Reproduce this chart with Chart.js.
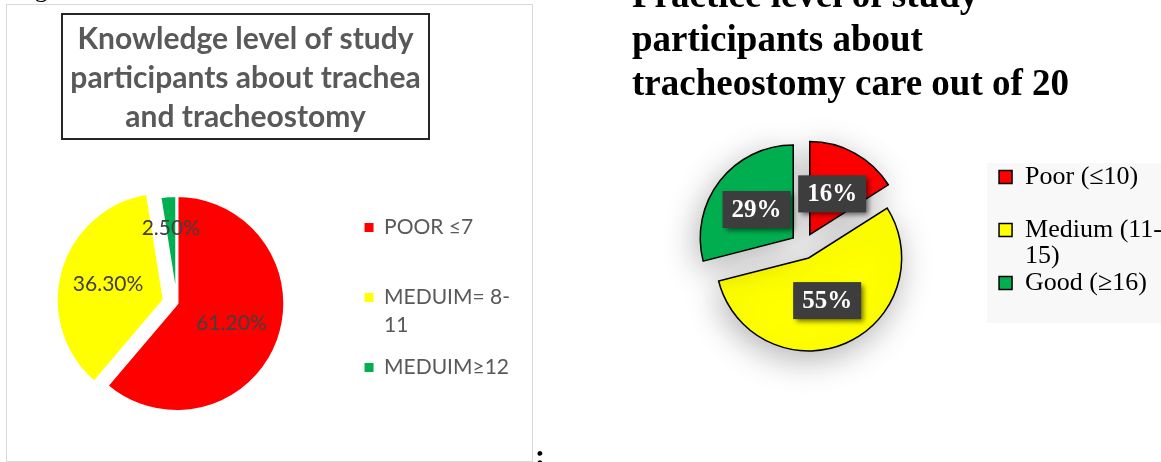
<!DOCTYPE html>
<html>
<head>
<meta charset="utf-8">
<script src="https://cdn.jsdelivr.net/npm/chart.js@4/dist/chart.umd.min.js"></script>
<style>
    html, body { margin: 0; padding: 0; overflow: hidden; background: #fff; }
    body { position: relative; width: 1161px; height: 462px; }
    #panel { position: absolute; left: 6px; top: 4px; width: 527px; height: 458px; box-sizing: border-box; border: 1px solid #d9d9d9; }
    canvas { position: absolute; top: 0; }
    #knowledge { left: 0; }
    #practice { left: 540px; }
    .doc { position: absolute; font-family: "Liberation Serif", serif; color: #000; white-space: nowrap; }
</style>
</head>
<body>
<div id="panel"></div>
<canvas id="knowledge" width="532" height="462"></canvas>
<canvas id="practice" width="632" height="462"></canvas>
<div class="doc" style="left:13px; top:-24px; font-size:26px; line-height:26px;">Fig</div>
<div class="doc" style="left:535px; top:440px; font-size:30px; line-height:30px; font-weight:bold;">:</div>
<script>
// left chart - knowledge
const knowledgeLabels = ["POOR ≤7", "MEDUIM= 8-11", "MEDUIM≥12"];
const knowledgeValues = [61.2, 36.3, 2.5];
const knowledgeColors = ["#ff0000", "#ffff00", "#00b050"];
const knowledgeTitle = ["Knowledge level of study", "participants about trachea", "and tracheostomy"];

// right chart - practice
const practiceLabels = ["Poor (≤10)", "Medium (11-15)", "Good (≥16)"];
const practiceValues = [16, 55, 29];
const practiceColors = ["#ff0000", "#ffff00", "#00b050"];
const practiceTitle = ["Practice level of study", "participants about", "tracheostomy care out of 20"];

// break a label after spaces / hyphens so it fits maxWidth
function wrapText(ctx, text, maxWidth) {
    const tokens = text.match(/[^ -]*[ -]?/g).filter(Boolean);
    const lines = [];
    let line = "";
    tokens.forEach((tok) => {
        const next = line + tok;
        if (line && ctx.measureText(next.trimEnd()).width > maxWidth) {
            lines.push(line.trimEnd());
            line = tok;
        } else {
            line = next;
        }
    });
    if (line) lines.push(line.trimEnd());
    return lines;
}

// legend items with wrapped text, every item given the same number of lines (like excel slots)
function legendItems(chart, maxWidth, font, color, outline) {
    const ds = chart.data.datasets[0];
    const ctx = chart.ctx;
    ctx.save();
    ctx.font = font;
    const lines = chart.data.labels.map((label) => wrapText(ctx, label, maxWidth));
    ctx.restore();
    const n = Math.max(...lines.map((l) => l.length));
    return lines.map((l, i) => {
        while (l.length < n) l.push("");
        return {
            text: l,
            fillStyle: ds.backgroundColor[i],
            strokeStyle: ds.borderColor,
            lineWidth: outline ? ds.borderWidth : 0,
            fontColor: color,
            hidden: false,
            index: i,
        };
    });
}

// pull slices away from the centre along their middle angle
const explode = {
    id: "explode",
    afterDatasetsUpdate(chart, args, opts) {
        const dist = opts.distance || [];
        chart.getDatasetMeta(0).data.forEach((arc, i) => {
            const d = dist[i] || 0;
            const mid = (arc.startAngle + arc.endAngle) / 2;
            arc.x += Math.cos(mid) * d;
            arc.y += Math.sin(mid) * d;
        });
    },
};

// soft glow under the pie
const softShadow = {
    id: "softShadow",
    beforeDatasetDraw(chart, args, opts) {
        const ctx = chart.ctx;
        ctx.save();
        ctx.shadowColor = opts.color;
        ctx.shadowBlur = opts.blur;
        ctx.shadowOffsetX = opts.x;
        ctx.shadowOffsetY = opts.y;
    },
    afterDatasetDraw(chart) {
        chart.ctx.restore();
    },
};

// percentage labels on the slices
const sliceLabels = {
    id: "sliceLabels",
    afterDatasetsDraw(chart, args, opts) {
        const ctx = chart.ctx;
        const values = chart.data.datasets[0].data;
        ctx.save();
        ctx.font = opts.font;
        ctx.textAlign = "center";
        ctx.textBaseline = "middle";
        chart.getDatasetMeta(0).data.forEach((arc, i) => {
            const mid = (arc.startAngle + arc.endAngle) / 2;
            const r = arc.outerRadius * opts.at[i];
            const x = arc.x + Math.cos(mid) * r;
            const y = arc.y + Math.sin(mid) * r;
            const text = opts.format(values[i]);
            if (opts.boxColor) {
                const w = ctx.measureText(text).width + opts.padX * 2;
                const h = opts.boxHeight;
                ctx.save();
                ctx.shadowColor = "rgba(0,0,0,0.55)";
                ctx.shadowBlur = 5;
                ctx.shadowOffsetX = 3;
                ctx.shadowOffsetY = 3;
                ctx.fillStyle = opts.boxColor;
                ctx.fillRect(x - w / 2, y - h / 2, w, h);
                ctx.restore();
            }
            ctx.fillStyle = opts.color;
            ctx.fillText(text, x, y + (opts.dy || 0));
        });
        ctx.restore();
    },
};

// title lines, optionally framed
const panelTitle = {
    id: "panelTitle",
    afterDraw(chart, args, opts) {
        const ctx = chart.ctx;
        ctx.save();
        ctx.font = opts.font;
        ctx.fillStyle = opts.color;
        ctx.textAlign = opts.align;
        ctx.textBaseline = "alphabetic";
        opts.lines.forEach((line, i) => ctx.fillText(line, opts.x, opts.baseline + i * opts.lineHeight));
        if (opts.frame) {
            ctx.lineWidth = opts.frame.width;
            ctx.strokeStyle = opts.frame.color;
            ctx.strokeRect(opts.frame.left, opts.frame.top, opts.frame.w, opts.frame.h);
        }
        ctx.restore();
    },
};

// light grey panel behind the legend
const legendPanel = {
    id: "legendPanel",
    beforeDraw(chart, args, opts) {
        const boxes = chart.legend.legendHitBoxes;
        if (!boxes || !boxes.length) return;
        const left = Math.min(...boxes.map((b) => b.left)) - opts.padLeft;
        const top = Math.min(...boxes.map((b) => b.top)) - opts.padY;
        const bottom = Math.max(...boxes.map((b) => b.top + b.height)) + opts.padY;
        const ctx = chart.ctx;
        ctx.save();
        ctx.fillStyle = opts.color;
        ctx.fillRect(left, top, chart.width - left, bottom - top);
        ctx.restore();
    },
};

const leftFont = "21px Lato";
new Chart(document.getElementById("knowledge"), {
    type: "pie",
    data: {
        labels: knowledgeLabels,
        datasets: [{
            data: knowledgeValues,
            backgroundColor: knowledgeColors,
            borderColor: "#ffffff",
            borderWidth: 3,
        }],
    },
    options: {
        responsive: false,
        animation: false,
        events: [],
        radius: 108,
        layout: { padding: { left: 3, right: 12, top: 180, bottom: 35 } },
        plugins: {
            tooltip: { enabled: false },
            legend: {
                position: "right",
                align: "end",
                fullSize: false,
                labels: {
                    font: { family: "Lato", size: 21, lineHeight: "28px" },
                    color: "#595959",
                    boxWidth: 9,
                    boxHeight: 9,
                    padding: 14,
                    generateLabels: (chart) => legendItems(chart, 135, leftFont, "#595959", false),
                },
            },
            explode: { distance: [0, 13, 0] },
            sliceLabels: {
                font: leftFont,
                color: "#404040",
                at: [0.54, 0.54, 0.7],
                format: (v) => v.toFixed(2) + "%",
            },
            panelTitle: {
                lines: knowledgeTitle,
                font: "bold 30px Lato",
                color: "#595959",
                align: "center",
                x: 245.5,
                baseline: 49,
                lineHeight: 39,
                frame: { left: 62, top: 14, w: 367, h: 125, width: 2, color: "#262626" },
            },
        },
    },
    plugins: [explode, sliceLabels, panelTitle],
});

const rightFont = "26px 'Liberation Serif'";
new Chart(document.getElementById("practice"), {
    type: "pie",
    data: {
        labels: practiceLabels,
        datasets: [{
            data: practiceValues,
            backgroundColor: practiceColors,
            borderColor: "#000000",
            borderWidth: 1.5,
            borderJoinStyle: "miter",
        }],
    },
    options: {
        responsive: false,
        animation: false,
        events: [],
        radius: 93,
        layout: { padding: { left: 69, right: 0, top: 163, bottom: 133 } },
        plugins: {
            tooltip: { enabled: false },
            legend: {
                position: "right",
                align: "start",
                fullSize: false,
                labels: {
                    font: { family: "Liberation Serif", size: 26, lineHeight: "26px" },
                    color: "#000000",
                    boxWidth: 13,
                    boxHeight: 13,
                    padding: 1,
                    generateLabels: (chart) => legendItems(chart, 142, rightFont, "#000000", true),
                },
            },
            explode: { distance: [13, 13, 13] },
            softShadow: { color: "rgba(0,0,0,0.3)", blur: 34, x: -3, y: 8 },
            legendPanel: { color: "#f8f8f8", padLeft: 12, padY: 1 },
            sliceLabels: {
                font: "bold 25px 'Liberation Serif'",
                color: "#ffffff",
                boxColor: "#3d3d3d",
                boxHeight: 37,
                padX: 9,
                dy: 1,
                at: [0.5, 0.5, 0.5],
                format: (v) => v + "%",
            },
            panelTitle: {
                lines: practiceTitle,
                font: "bold 37px 'Liberation Serif'",
                color: "#000000",
                align: "left",
                x: 92,
                baseline: 7,
                lineHeight: 44,
            },
        },
    },
    plugins: [explode, softShadow, legendPanel, sliceLabels, panelTitle],
});
</script>
</body>
</html>
